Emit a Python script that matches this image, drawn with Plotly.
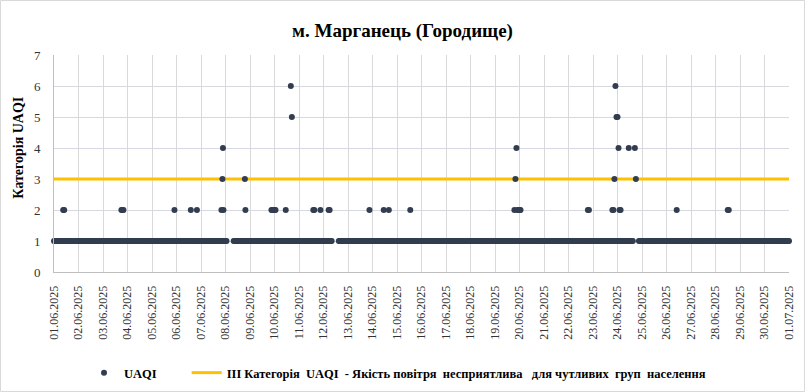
import pandas as pd
import plotly.graph_objects as go

# ---------------- data ----------------
start_time = "2025-06-01 00:00"
end_time = "2025-07-01 00:00"
base_value = 1  # UAQI category observed for nearly every hour

# hours with no reading at category 1 (gaps in the band)
missing_hours = [
    "2025-06-08 02:00", "2025-06-08 03:00", "2025-06-08 04:00",
    "2025-06-08 05:00", "2025-06-08 06:00", "2025-06-08 07:00",
    "2025-06-12 09:00", "2025-06-12 10:00", "2025-06-12 11:00",
    "2025-06-12 12:00", "2025-06-12 13:00", "2025-06-12 14:00",
    "2025-06-24 16:00", "2025-06-24 17:00", "2025-06-24 18:00",
    "2025-06-24 19:00", "2025-06-24 20:00",
]

# readings above category 1
elevated_times = [
    "2025-06-01 09:00", "2025-06-01 10:00",
    "2025-06-03 18:00", "2025-06-03 19:00", "2025-06-03 20:00",
    "2025-06-05 22:00",
    "2025-06-06 14:00", "2025-06-06 20:00",
    "2025-06-07 20:00", "2025-06-07 21:00", "2025-06-07 21:30", "2025-06-07 22:00",
    "2025-06-08 19:00", "2025-06-08 19:30",
    "2025-06-09 21:00", "2025-06-09 22:00", "2025-06-09 23:00",
    "2025-06-10 00:00", "2025-06-10 01:00",
    "2025-06-10 11:00", "2025-06-10 16:00", "2025-06-10 17:00",
    "2025-06-11 14:00", "2025-06-11 15:00", "2025-06-11 21:00",
    "2025-06-12 05:00", "2025-06-12 06:00",
    "2025-06-13 21:00",
    "2025-06-14 11:00", "2025-06-14 16:00",
    "2025-06-15 13:00",
    "2025-06-19 19:00", "2025-06-19 20:00", "2025-06-19 21:00",
    "2025-06-19 22:00", "2025-06-19 23:00", "2025-06-20 00:00", "2025-06-20 01:00",
    "2025-06-22 19:00", "2025-06-22 20:00",
    "2025-06-23 19:00", "2025-06-23 20:00", "2025-06-23 21:00", "2025-06-23 22:00",
    "2025-06-23 23:00", "2025-06-24 00:00", "2025-06-24 01:00",
    "2025-06-24 02:00", "2025-06-24 03:00",
    "2025-06-24 11:00", "2025-06-24 17:00", "2025-06-24 18:00",
    "2025-06-26 10:00",
    "2025-06-28 12:00", "2025-06-28 13:00",
]
elevated_values = [
    2, 2,
    2, 2, 2,
    2,
    2, 2,
    2, 3, 4, 2,
    3, 2,
    2, 2, 2,
    2, 2,
    2, 6, 5,
    2, 2, 2,
    2, 2,
    2,
    2, 2,
    2,
    2, 3, 4,
    2, 2, 2, 2,
    2, 2,
    2, 2, 3, 6,
    5, 5, 4,
    2, 2,
    4, 4, 3,
    2,
    2, 2,
]

threshold_value = 3
series_name = "UAQI"
threshold_name = ("ІІІ Категорія\u00a0 UAQI\u00a0 - Якість повітря\u00a0 несприятлива"
                  "\u00a0\u00a0 для чутливих\u00a0 груп\u00a0 населення")
chart_title = "м. Марганець (Городище)"
y_title = "Категорія UAQI"

# ---------------- build series ----------------
hours = pd.date_range(start_time, end_time, freq="h")
hours = hours[~hours.isin(pd.to_datetime(missing_hours))]
x_all = list(hours) + list(pd.to_datetime(elevated_times))
y_all = [base_value] * len(hours) + elevated_values

SERIF = "Liberation Serif"
DOT = "#323D4F"
GOLD = "#FFC000"

fig = go.Figure()
fig.add_trace(go.Scatter(
    x=[pd.Timestamp(start_time), pd.Timestamp(end_time)],
    y=[threshold_value, threshold_value],
    mode="lines", line=dict(color=GOLD, width=3),
    name=threshold_name, legendrank=2, cliponaxis=False,
))
fig.add_trace(go.Scatter(
    x=x_all, y=y_all, mode="markers",
    marker=dict(color=DOT, size=6),
    name=series_name + "\u00a0" * 8, legendrank=1, cliponaxis=False,
))

L, R, T, B = 54, 16, 55, 120
W, H = 805, 392
pw, ph = W - L - R, H - T - B

fig.update_layout(
    width=W, height=H,
    margin=dict(l=L, r=R, t=T, b=B, autoexpand=False),
    paper_bgcolor="white", plot_bgcolor="white",
    title=dict(text="<b>" + chart_title + "</b>", x=0.5, xanchor="center",
               y=1 - 30 / H, yanchor="middle",
               font=dict(family=SERIF, size=19, color="#000000")),
    showlegend=True,
    legend=dict(orientation="h", x=(84 - L) / pw, xanchor="left",
                y=(ph - (373 - T)) / ph, yanchor="middle",
                font=dict(family=SERIF, size=12.5, color="#000000", weight="bold"),
                bgcolor="rgba(0,0,0,0)", itemwidth=30),
    xaxis=dict(type="date", range=[start_time, end_time],
               tick0=start_time, dtick=86400000, tickformat="%d.%m.%Y",
               tickangle=-90, showgrid=True, gridcolor="#D9D9D9", gridwidth=1,
               showline=True, linecolor="#BFBFBF", linewidth=1,
               ticks="", ticklabelstandoff=8, zeroline=False,
               tickfont=dict(family=SERIF, size=12, color="#333333")),
    yaxis=dict(range=[0, 7], dtick=1, tick0=0, showgrid=True,
               gridcolor="#D6D9E2", gridwidth=1,
               showline=True, linecolor="#BFBFBF", linewidth=1,
               ticks="", ticklabelstandoff=10, zeroline=False,
               tickfont=dict(family=SERIF, size=13, color="#333333")),
    annotations=[dict(text="<b>" + y_title + "</b>", xref="paper", yref="paper",
                      x=(19 - L) / pw, y=(272.3 - 148) / ph,
                      xanchor="center", yanchor="middle", textangle=-90,
                      showarrow=False,
                      font=dict(family=SERIF, size=14, color="#000000"))],
    shapes=[dict(type="rect", xref="paper", yref="paper",
                 x0=(0.5 - L) / pw, x1=(W - 0.5 - L) / pw,
                 y0=-(B - 0.5) / ph, y1=1 + (T - 0.5) / ph,
                 line=dict(color="#D9D9D9", width=1), fillcolor="rgba(0,0,0,0)")],
)

fig.write_html("out.html", config={"displayModeBar": False},
               post_script="document.body.style.margin='0';document.body.style.overflow='hidden';")
